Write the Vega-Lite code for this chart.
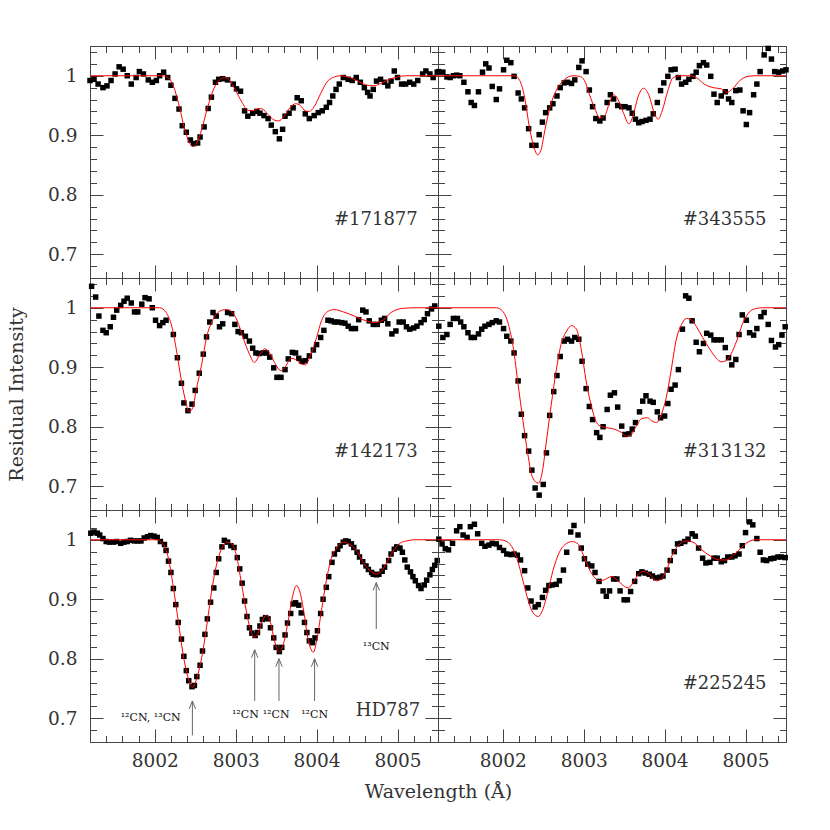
{
"$schema":"https://vega.github.io/schema/vega-lite/v6.json",
"background":"white",
"padding":{"left":6,"top":42,"right":5,"bottom":5},
"autosize":{"type":"pad"},
"config":{"view":{"stroke":null},"concat":{"spacing":0},
"axis":{"domainColor":"#444","tickColor":"#444","domainWidth":1,"tickWidth":1,"labelFont":"DejaVu Serif","labelFontSize":18.5,"labelColor":"#333","titleFont":"DejaVu Serif","titleFontSize":19,"titleColor":"#333","titleFontWeight":"normal","grid":false,"labelOverlap":false,"labelFlush":false,"labelBound":false}},
"datasets":{
"obs1":[{"wl":8001.20,"flux":0.992},{"wl":8001.25,"flux":0.994},{"wl":8001.30,"flux":0.986},{"wl":8001.36,"flux":0.980},{"wl":8001.41,"flux":0.983},{"wl":8001.46,"flux":0.992},{"wl":8001.51,"flux":1.003},{"wl":8001.56,"flux":1.015},{"wl":8001.61,"flux":1.011},{"wl":8001.66,"flux":1.000},{"wl":8001.71,"flux":0.986},{"wl":8001.77,"flux":0.997},{"wl":8001.81,"flux":1.007},{"wl":8001.86,"flux":1.003},{"wl":8001.92,"flux":0.993},{"wl":8001.97,"flux":0.989},{"wl":8002.02,"flux":0.992},{"wl":8002.06,"flux":1.000},{"wl":8002.11,"flux":1.006},{"wl":8002.16,"flux":0.997},{"wl":8002.20,"flux":0.984},{"wl":8002.25,"flux":0.962},{"wl":8002.30,"flux":0.944},{"wl":8002.34,"flux":0.916},{"wl":8002.39,"flux":0.905},{"wl":8002.44,"flux":0.892},{"wl":8002.48,"flux":0.886},{"wl":8002.53,"flux":0.887},{"wl":8002.56,"flux":0.897},{"wl":8002.61,"flux":0.914},{"wl":8002.66,"flux":0.945},{"wl":8002.70,"flux":0.964},{"wl":8002.75,"flux":0.989},{"wl":8002.79,"flux":0.994},{"wl":8002.84,"flux":0.995},{"wl":8002.90,"flux":0.993},{"wl":8002.97,"flux":0.986},{"wl":8003.01,"flux":0.978},{"wl":8003.06,"flux":0.974},{"wl":8003.11,"flux":0.941},{"wl":8003.15,"flux":0.932},{"wl":8003.21,"flux":0.937},{"wl":8003.26,"flux":0.940},{"wl":8003.30,"flux":0.937},{"wl":8003.35,"flux":0.933},{"wl":8003.40,"flux":0.928},{"wl":8003.44,"flux":0.917},{"wl":8003.49,"flux":0.906},{"wl":8003.54,"flux":0.894},{"wl":8003.58,"flux":0.910},{"wl":8003.61,"flux":0.932},{"wl":8003.66,"flux":0.937},{"wl":8003.71,"flux":0.946},{"wl":8003.76,"flux":0.963},{"wl":8003.81,"flux":0.958},{"wl":8003.86,"flux":0.936},{"wl":8003.91,"flux":0.928},{"wl":8003.97,"flux":0.933},{"wl":8004.02,"flux":0.938},{"wl":8004.07,"flux":0.941},{"wl":8004.12,"flux":0.947},{"wl":8004.16,"flux":0.955},{"wl":8004.20,"flux":0.966},{"wl":8004.24,"flux":0.977},{"wl":8004.28,"flux":0.986},{"wl":8004.33,"flux":0.997},{"wl":8004.39,"flux":0.994},{"wl":8004.44,"flux":0.992},{"wl":8004.49,"flux":0.997},{"wl":8004.54,"flux":0.989},{"wl":8004.59,"flux":0.980},{"wl":8004.63,"flux":0.972},{"wl":8004.66,"flux":0.966},{"wl":8004.70,"flux":0.977},{"wl":8004.74,"flux":0.991},{"wl":8004.79,"flux":0.994},{"wl":8004.84,"flux":0.989},{"wl":8004.88,"flux":0.983},{"wl":8004.92,"flux":0.991},{"wl":8004.96,"flux":1.008},{"wl":8005.00,"flux":0.997},{"wl":8005.05,"flux":0.986},{"wl":8005.10,"flux":0.986},{"wl":8005.15,"flux":0.989},{"wl":8005.20,"flux":0.986},{"wl":8005.25,"flux":0.992},{"wl":8005.31,"flux":1.003},{"wl":8005.35,"flux":1.008},{"wl":8005.40,"flux":1.003},{"wl":8005.44,"flux":0.997},{"wl":8005.49,"flux":1.006}],
"mod1":[{"wl":8001.20,"flux":1.0},{"wl":8002.10,"flux":1.0},{"wl":8002.18,"flux":0.995},{"wl":8002.25,"flux":0.975},{"wl":8002.31,"flux":0.945},{"wl":8002.37,"flux":0.91},{"wl":8002.44,"flux":0.885},{"wl":8002.47,"flux":0.881},{"wl":8002.52,"flux":0.887},{"wl":8002.58,"flux":0.91},{"wl":8002.65,"flux":0.945},{"wl":8002.72,"flux":0.975},{"wl":8002.80,"flux":0.993},{"wl":8002.86,"flux":0.997},{"wl":8002.92,"flux":0.993},{"wl":8003.00,"flux":0.975},{"wl":8003.08,"flux":0.955},{"wl":8003.15,"flux":0.942},{"wl":8003.22,"flux":0.941},{"wl":8003.28,"flux":0.945},{"wl":8003.33,"flux":0.944},{"wl":8003.40,"flux":0.935},{"wl":8003.47,"flux":0.926},{"wl":8003.53,"flux":0.924},{"wl":8003.60,"flux":0.932},{"wl":8003.67,"flux":0.946},{"wl":8003.74,"flux":0.953},{"wl":8003.80,"flux":0.950},{"wl":8003.86,"flux":0.941},{"wl":8003.91,"flux":0.940},{"wl":8003.97,"flux":0.948},{"wl":8004.05,"flux":0.970},{"wl":8004.12,"flux":0.988},{"wl":8004.22,"flux":0.998},{"wl":8004.30,"flux":1.0},{"wl":8004.38,"flux":0.998},{"wl":8004.48,"flux":0.993},{"wl":8004.60,"flux":0.985},{"wl":8004.70,"flux":0.983},{"wl":8004.78,"flux":0.986},{"wl":8004.88,"flux":0.993},{"wl":8005.00,"flux":0.998},{"wl":8005.10,"flux":1.0},{"wl":8005.50,"flux":1.0}],
"obs2":[{"wl":8001.21,"flux":1.007},{"wl":8001.26,"flux":1.006},{"wl":8001.31,"flux":0.998},{"wl":8001.35,"flux":0.997},{"wl":8001.39,"flux":1.0},{"wl":8001.43,"flux":1.001},{"wl":8001.47,"flux":1.0},{"wl":8001.52,"flux":0.989},{"wl":8001.57,"flux":0.973},{"wl":8001.61,"flux":0.955},{"wl":8001.65,"flux":0.950},{"wl":8001.70,"flux":0.973},{"wl":8001.75,"flux":1.006},{"wl":8001.79,"flux":1.020},{"wl":8001.83,"flux":1.013},{"wl":8001.87,"flux":0.982},{"wl":8001.92,"flux":0.960},{"wl":8001.96,"flux":0.978},{"wl":8002.01,"flux":1.010},{"wl":8002.05,"flux":1.026},{"wl":8002.10,"flux":1.022},{"wl":8002.14,"flux":0.999},{"wl":8002.19,"flux":0.971},{"wl":8002.23,"flux":0.961},{"wl":8002.27,"flux":0.946},{"wl":8002.32,"flux":0.911},{"wl":8002.36,"flux":0.883},{"wl":8002.41,"flux":0.883},{"wl":8002.45,"flux":0.901},{"wl":8002.49,"flux":0.922},{"wl":8002.53,"flux":0.938},{"wl":8002.58,"flux":0.946},{"wl":8002.62,"flux":0.953},{"wl":8002.67,"flux":0.966},{"wl":8002.71,"flux":0.980},{"wl":8002.76,"flux":0.988},{"wl":8002.80,"flux":0.989},{"wl":8002.85,"flux":0.987},{"wl":8002.89,"flux":0.993},{"wl":8002.94,"flux":1.014},{"wl":8002.98,"flux":1.025},{"wl":8003.03,"flux":1.007},{"wl":8003.07,"flux":0.976},{"wl":8003.11,"flux":0.948},{"wl":8003.15,"flux":0.928},{"wl":8003.20,"flux":0.924},{"wl":8003.24,"flux":0.929},{"wl":8003.29,"flux":0.955},{"wl":8003.33,"flux":0.968},{"wl":8003.37,"flux":0.961},{"wl":8003.42,"flux":0.950},{"wl":8003.47,"flux":0.948},{"wl":8003.51,"flux":0.948},{"wl":8003.56,"flux":0.946},{"wl":8003.60,"flux":0.937},{"wl":8003.64,"flux":0.927},{"wl":8003.68,"flux":0.921},{"wl":8003.72,"flux":0.923},{"wl":8003.77,"flux":0.925},{"wl":8003.82,"flux":0.927},{"wl":8003.86,"flux":0.936},{"wl":8003.91,"flux":0.955},{"wl":8003.95,"flux":0.975},{"wl":8003.99,"flux":0.988},{"wl":8004.04,"flux":0.999},{"wl":8004.08,"flux":1.010},{"wl":8004.13,"flux":1.011},{"wl":8004.17,"flux":0.997},{"wl":8004.21,"flux":0.986},{"wl":8004.26,"flux":0.989},{"wl":8004.30,"flux":0.994},{"wl":8004.35,"flux":0.999},{"wl":8004.39,"flux":1.006},{"wl":8004.43,"flux":1.017},{"wl":8004.48,"flux":1.022},{"wl":8004.52,"flux":1.018},{"wl":8004.57,"flux":0.999},{"wl":8004.61,"flux":0.969},{"wl":8004.65,"flux":0.955},{"wl":8004.70,"flux":0.966},{"wl":8004.75,"flux":0.973},{"wl":8004.79,"flux":0.961},{"wl":8004.83,"flux":0.955},{"wl":8004.88,"flux":0.975},{"wl":8004.93,"flux":0.976},{"wl":8004.97,"flux":0.941},{"wl":8005.01,"flux":0.918},{"wl":8005.05,"flux":0.938},{"wl":8005.10,"flux":0.968},{"wl":8005.14,"flux":0.986},{"wl":8005.18,"flux":1.007},{"wl":8005.23,"flux":1.035},{"wl":8005.28,"flux":1.046},{"wl":8005.32,"flux":1.028},{"wl":8005.36,"flux":1.007},{"wl":8005.41,"flux":1.006},{"wl":8005.46,"flux":1.008},{"wl":8005.50,"flux":1.010}],
"mod2":[{"wl":8001.20,"flux":1.0},{"wl":8002.15,"flux":1.0},{"wl":8002.21,"flux":0.992},{"wl":8002.27,"flux":0.964},{"wl":8002.33,"flux":0.913},{"wl":8002.40,"flux":0.874},{"wl":8002.43,"flux":0.867},{"wl":8002.47,"flux":0.874},{"wl":8002.52,"flux":0.908},{"wl":8002.59,"flux":0.950},{"wl":8002.66,"flux":0.975},{"wl":8002.75,"flux":0.992},{"wl":8002.87,"flux":1.0},{"wl":8002.95,"flux":0.999},{"wl":8003.01,"flux":0.992},{"wl":8003.07,"flux":0.969},{"wl":8003.14,"flux":0.944},{"wl":8003.20,"flux":0.929},{"wl":8003.26,"flux":0.933},{"wl":8003.32,"flux":0.955},{"wl":8003.37,"flux":0.968},{"wl":8003.42,"flux":0.961},{"wl":8003.49,"flux":0.938},{"wl":8003.56,"flux":0.919},{"wl":8003.61,"flux":0.933},{"wl":8003.67,"flux":0.964},{"wl":8003.74,"flux":0.979},{"wl":8003.81,"flux":0.966},{"wl":8003.87,"flux":0.938},{"wl":8003.92,"flux":0.927},{"wl":8003.97,"flux":0.941},{"wl":8004.04,"flux":0.975},{"wl":8004.10,"flux":0.996},{"wl":8004.19,"flux":1.0},{"wl":8004.31,"flux":1.0},{"wl":8004.39,"flux":0.997},{"wl":8004.49,"flux":0.986},{"wl":8004.60,"flux":0.980},{"wl":8004.70,"flux":0.978},{"wl":8004.77,"flux":0.972},{"wl":8004.84,"flux":0.978},{"wl":8004.93,"flux":0.992},{"wl":8005.03,"flux":0.999},{"wl":8005.13,"flux":1.0},{"wl":8005.50,"flux":1.0}],
"obs3":[{"wl":8001.22,"flux":1.036},{"wl":8001.27,"flux":1.018},{"wl":8001.31,"flux":0.986},{"wl":8001.36,"flux":0.962},{"wl":8001.40,"flux":0.958},{"wl":8001.45,"flux":0.968},{"wl":8001.49,"flux":0.984},{"wl":8001.53,"flux":0.996},{"wl":8001.58,"flux":1.004},{"wl":8001.62,"flux":1.011},{"wl":8001.66,"flux":1.016},{"wl":8001.71,"flux":1.008},{"wl":8001.75,"flux":0.993},{"wl":8001.79,"flux":0.993},{"wl":8001.84,"flux":1.006},{"wl":8001.88,"flux":1.017},{"wl":8001.93,"flux":1.015},{"wl":8001.97,"flux":1.0},{"wl":8002.01,"flux":0.979},{"wl":8002.06,"flux":0.970},{"wl":8002.10,"flux":0.975},{"wl":8002.14,"flux":0.979},{"wl":8002.23,"flux":0.955},{"wl":8002.28,"flux":0.916},{"wl":8002.33,"flux":0.873},{"wl":8002.36,"flux":0.840},{"wl":8002.41,"flux":0.827},{"wl":8002.46,"flux":0.838},{"wl":8002.50,"flux":0.861},{"wl":8002.55,"flux":0.890},{"wl":8002.60,"flux":0.922},{"wl":8002.64,"flux":0.951},{"wl":8002.68,"flux":0.976},{"wl":8002.72,"flux":0.992},{"wl":8002.76,"flux":0.986},{"wl":8002.80,"flux":0.968},{"wl":8002.84,"flux":0.973},{"wl":8002.90,"flux":0.992},{"wl":8002.95,"flux":0.990},{"wl":8002.99,"flux":0.972},{"wl":8003.03,"flux":0.960},{"wl":8003.07,"flux":0.958},{"wl":8003.12,"flux":0.952},{"wl":8003.17,"flux":0.944},{"wl":8003.21,"flux":0.932},{"wl":8003.25,"flux":0.924},{"wl":8003.29,"flux":0.923},{"wl":8003.34,"flux":0.924},{"wl":8003.38,"flux":0.924},{"wl":8003.42,"flux":0.917},{"wl":8003.47,"flux":0.899},{"wl":8003.51,"flux":0.883},{"wl":8003.56,"flux":0.883},{"wl":8003.61,"flux":0.896},{"wl":8003.65,"flux":0.914},{"wl":8003.70,"flux":0.925},{"wl":8003.74,"flux":0.924},{"wl":8003.78,"flux":0.915},{"wl":8003.82,"flux":0.910},{"wl":8003.86,"flux":0.911},{"wl":8003.91,"flux":0.919},{"wl":8003.96,"flux":0.929},{"wl":8004.00,"flux":0.938},{"wl":8004.05,"flux":0.950},{"wl":8004.09,"flux":0.962},{"wl":8004.14,"flux":0.979},{"wl":8004.18,"flux":0.978},{"wl":8004.22,"flux":0.976},{"wl":8004.26,"flux":0.976},{"wl":8004.31,"flux":0.975},{"wl":8004.35,"flux":0.974},{"wl":8004.39,"flux":0.969},{"wl":8004.43,"flux":0.965},{"wl":8004.48,"flux":0.965},{"wl":8004.52,"flux":0.980},{"wl":8004.57,"flux":0.996},{"wl":8004.61,"flux":0.993},{"wl":8004.65,"flux":0.978},{"wl":8004.70,"flux":0.972},{"wl":8004.75,"flux":0.972},{"wl":8004.80,"flux":0.979},{"wl":8004.84,"flux":0.982},{"wl":8004.88,"flux":0.973},{"wl":8004.93,"flux":0.956},{"wl":8004.98,"flux":0.961},{"wl":8005.02,"flux":0.976},{"wl":8005.07,"flux":0.976},{"wl":8005.11,"flux":0.968},{"wl":8005.15,"flux":0.964},{"wl":8005.20,"flux":0.966},{"wl":8005.24,"flux":0.969},{"wl":8005.29,"flux":0.975},{"wl":8005.33,"flux":0.980},{"wl":8005.37,"flux":0.990},{"wl":8005.42,"flux":0.998},{"wl":8005.46,"flux":1.003}],
"mod3":[{"wl":8001.20,"flux":1.0},{"wl":8002.06,"flux":1.0},{"wl":8002.14,"flux":0.992},{"wl":8002.21,"flux":0.969},{"wl":8002.27,"flux":0.927},{"wl":8002.33,"flux":0.877},{"wl":8002.39,"flux":0.838},{"wl":8002.42,"flux":0.825},{"wl":8002.47,"flux":0.832},{"wl":8002.51,"flux":0.860},{"wl":8002.58,"flux":0.905},{"wl":8002.64,"flux":0.950},{"wl":8002.72,"flux":0.980},{"wl":8002.80,"flux":0.994},{"wl":8002.88,"flux":0.997},{"wl":8002.95,"flux":0.993},{"wl":8003.02,"flux":0.978},{"wl":8003.09,"flux":0.950},{"wl":8003.17,"flux":0.922},{"wl":8003.23,"flux":0.908},{"wl":8003.29,"flux":0.919},{"wl":8003.36,"flux":0.931},{"wl":8003.42,"flux":0.924},{"wl":8003.48,"flux":0.908},{"wl":8003.56,"flux":0.894},{"wl":8003.62,"flux":0.902},{"wl":8003.68,"flux":0.915},{"wl":8003.74,"flux":0.913},{"wl":8003.80,"flux":0.906},{"wl":8003.86,"flux":0.904},{"wl":8003.93,"flux":0.922},{"wl":8004.00,"flux":0.950},{"wl":8004.06,"flux":0.978},{"wl":8004.14,"flux":0.994},{"wl":8004.22,"flux":0.997},{"wl":8004.33,"flux":0.993},{"wl":8004.45,"flux":0.987},{"wl":8004.57,"flux":0.980},{"wl":8004.72,"flux":0.975},{"wl":8004.82,"flux":0.979},{"wl":8004.92,"flux":0.992},{"wl":8005.07,"flux":0.999},{"wl":8005.23,"flux":1.0},{"wl":8005.50,"flux":1.0}],
"obs4":[{"wl":8001.21,"flux":0.969},{"wl":8001.26,"flux":0.950},{"wl":8001.31,"flux":0.955},{"wl":8001.35,"flux":0.972},{"wl":8001.39,"flux":0.982},{"wl":8001.44,"flux":0.982},{"wl":8001.48,"flux":0.976},{"wl":8001.52,"flux":0.968},{"wl":8001.57,"flux":0.958},{"wl":8001.61,"flux":0.950},{"wl":8001.65,"flux":0.950},{"wl":8001.70,"flux":0.956},{"wl":8001.74,"flux":0.964},{"wl":8001.78,"flux":0.969},{"wl":8001.83,"flux":0.972},{"wl":8001.87,"flux":0.975},{"wl":8001.92,"flux":0.978},{"wl":8001.96,"flux":0.976},{"wl":8002.01,"flux":0.965},{"wl":8002.05,"flux":0.952},{"wl":8002.10,"flux":0.944},{"wl":8002.14,"flux":0.924},{"wl":8002.19,"flux":0.877},{"wl":8002.23,"flux":0.821},{"wl":8002.27,"flux":0.785},{"wl":8002.32,"flux":0.759},{"wl":8002.36,"flux":0.727},{"wl":8002.40,"flux":0.697},{"wl":8002.45,"flux":0.685},{"wl":8002.50,"flux":0.703},{"wl":8002.54,"flux":0.756},{"wl":8002.58,"flux":0.819},{"wl":8002.63,"flux":0.859},{"wl":8002.67,"flux":0.886},{"wl":8002.71,"flux":0.918},{"wl":8002.76,"flux":0.944},{"wl":8002.80,"flux":0.947},{"wl":8002.85,"flux":0.944},{"wl":8002.89,"flux":0.950},{"wl":8002.94,"flux":0.947},{"wl":8002.98,"flux":0.910},{"wl":8003.03,"flux":0.864},{"wl":8003.07,"flux":0.834},{"wl":8003.11,"flux":0.812},{"wl":8003.16,"flux":0.790},{"wl":8003.20,"flux":0.782},{"wl":8003.24,"flux":0.800},{"wl":8003.29,"flux":0.829},{"wl":8003.33,"flux":0.853},{"wl":8003.38,"flux":0.857},{"wl":8003.42,"flux":0.833},{"wl":8003.47,"flux":0.801},{"wl":8003.51,"flux":0.787},{"wl":8003.56,"flux":0.788},{"wl":8003.60,"flux":0.796},{"wl":8003.64,"flux":0.807},{"wl":8003.69,"flux":0.825},{"wl":8003.73,"flux":0.843},{"wl":8003.77,"flux":0.852},{"wl":8003.82,"flux":0.843},{"wl":8003.86,"flux":0.841},{"wl":8003.91,"flux":0.825},{"wl":8003.95,"flux":0.815},{"wl":8004.00,"flux":0.818},{"wl":8004.04,"flux":0.839},{"wl":8004.08,"flux":0.863},{"wl":8004.13,"flux":0.870},{"wl":8004.17,"flux":0.896},{"wl":8004.22,"flux":0.964},{"wl":8004.26,"flux":1.020},{"wl":8004.30,"flux":1.016},{"wl":8004.34,"flux":0.978},{"wl":8004.39,"flux":0.942},{"wl":8004.43,"flux":0.926},{"wl":8004.48,"flux":0.940},{"wl":8004.52,"flux":0.957},{"wl":8004.57,"flux":0.954},{"wl":8004.61,"flux":0.946},{"wl":8004.65,"flux":0.946},{"wl":8004.70,"flux":0.946},{"wl":8004.75,"flux":0.933},{"wl":8004.79,"flux":0.916},{"wl":8004.83,"flux":0.904},{"wl":8004.88,"flux":0.913},{"wl":8004.92,"flux":0.955},{"wl":8004.96,"flux":0.988},{"wl":8005.01,"flux":0.979},{"wl":8005.05,"flux":0.958},{"wl":8005.10,"flux":0.954},{"wl":8005.14,"flux":0.965},{"wl":8005.19,"flux":0.985},{"wl":8005.23,"flux":0.992},{"wl":8005.28,"flux":0.972},{"wl":8005.32,"flux":0.945},{"wl":8005.37,"flux":0.934},{"wl":8005.41,"flux":0.938},{"wl":8005.45,"flux":0.954},{"wl":8005.49,"flux":0.968}],
"mod4":[{"wl":8001.20,"flux":1.0},{"wl":8001.92,"flux":1.0},{"wl":8002.00,"flux":0.994},{"wl":8002.07,"flux":0.972},{"wl":8002.13,"flux":0.933},{"wl":8002.19,"flux":0.871},{"wl":8002.25,"flux":0.810},{"wl":8002.31,"flux":0.754},{"wl":8002.37,"flux":0.714},{"wl":8002.44,"flux":0.705},{"wl":8002.49,"flux":0.725},{"wl":8002.54,"flux":0.776},{"wl":8002.60,"flux":0.838},{"wl":8002.66,"flux":0.894},{"wl":8002.72,"flux":0.938},{"wl":8002.79,"flux":0.961},{"wl":8002.85,"flux":0.970},{"wl":8002.91,"flux":0.964},{"wl":8002.97,"flux":0.930},{"wl":8003.03,"flux":0.877},{"wl":8003.10,"flux":0.832},{"wl":8003.16,"flux":0.807},{"wl":8003.22,"flux":0.800},{"wl":8003.30,"flux":0.798},{"wl":8003.38,"flux":0.796},{"wl":8003.47,"flux":0.790},{"wl":8003.53,"flux":0.784},{"wl":8003.59,"flux":0.787},{"wl":8003.65,"flux":0.801},{"wl":8003.72,"flux":0.814},{"wl":8003.79,"flux":0.815},{"wl":8003.84,"flux":0.810},{"wl":8003.90,"flux":0.807},{"wl":8003.96,"flux":0.821},{"wl":8004.02,"flux":0.849},{"wl":8004.08,"flux":0.894},{"wl":8004.14,"flux":0.944},{"wl":8004.21,"flux":0.972},{"wl":8004.27,"flux":0.982},{"wl":8004.33,"flux":0.980},{"wl":8004.39,"flux":0.969},{"wl":8004.47,"flux":0.950},{"wl":8004.56,"flux":0.930},{"wl":8004.64,"flux":0.915},{"wl":8004.70,"flux":0.909},{"wl":8004.76,"flux":0.911},{"wl":8004.82,"flux":0.922},{"wl":8004.89,"flux":0.944},{"wl":8004.96,"flux":0.972},{"wl":8005.03,"flux":0.990},{"wl":8005.11,"flux":0.998},{"wl":8005.21,"flux":1.0},{"wl":8005.50,"flux":1.0}],
"obs5":[{"wl":8001.21,"flux":1.011},{"wl":8001.25,"flux":1.013},{"wl":8001.29,"flux":1.011},{"wl":8001.32,"flux":1.008},{"wl":8001.36,"flux":1.002},{"wl":8001.40,"flux":0.997},{"wl":8001.44,"flux":0.996},{"wl":8001.49,"flux":0.996},{"wl":8001.53,"flux":0.997},{"wl":8001.58,"flux":0.994},{"wl":8001.62,"flux":0.996},{"wl":8001.66,"flux":0.997},{"wl":8001.70,"flux":0.999},{"wl":8001.75,"flux":0.998},{"wl":8001.79,"flux":0.998},{"wl":8001.83,"flux":0.998},{"wl":8001.87,"flux":1.003},{"wl":8001.91,"flux":1.005},{"wl":8001.95,"flux":1.007},{"wl":8001.99,"flux":1.006},{"wl":8002.03,"flux":1.004},{"wl":8002.07,"flux":0.997},{"wl":8002.12,"flux":0.992},{"wl":8002.14,"flux":0.982},{"wl":8002.17,"flux":0.964},{"wl":8002.20,"flux":0.945},{"wl":8002.23,"flux":0.918},{"wl":8002.26,"flux":0.891},{"wl":8002.29,"flux":0.861},{"wl":8002.33,"flux":0.833},{"wl":8002.36,"flux":0.804},{"wl":8002.39,"flux":0.780},{"wl":8002.42,"flux":0.763},{"wl":8002.46,"flux":0.753},{"wl":8002.49,"flux":0.755},{"wl":8002.52,"flux":0.770},{"wl":8002.56,"flux":0.789},{"wl":8002.59,"flux":0.813},{"wl":8002.62,"flux":0.841},{"wl":8002.65,"flux":0.867},{"wl":8002.69,"flux":0.895},{"wl":8002.73,"flux":0.919},{"wl":8002.76,"flux":0.945},{"wl":8002.79,"flux":0.968},{"wl":8002.83,"flux":0.988},{"wl":8002.86,"flux":0.999},{"wl":8002.90,"flux":0.996},{"wl":8002.94,"flux":0.990},{"wl":8002.98,"flux":0.987},{"wl":8003.02,"flux":0.970},{"wl":8003.05,"flux":0.951},{"wl":8003.08,"flux":0.927},{"wl":8003.11,"flux":0.897},{"wl":8003.14,"flux":0.871},{"wl":8003.17,"flux":0.852},{"wl":8003.20,"flux":0.843},{"wl":8003.24,"flux":0.839},{"wl":8003.27,"flux":0.844},{"wl":8003.30,"flux":0.855},{"wl":8003.33,"flux":0.866},{"wl":8003.37,"flux":0.869},{"wl":8003.40,"flux":0.867},{"wl":8003.43,"flux":0.852},{"wl":8003.47,"flux":0.835},{"wl":8003.50,"flux":0.819},{"wl":8003.54,"flux":0.812},{"wl":8003.57,"flux":0.819},{"wl":8003.61,"flux":0.840},{"wl":8003.64,"flux":0.860},{"wl":8003.68,"flux":0.876},{"wl":8003.71,"flux":0.892},{"wl":8003.74,"flux":0.894},{"wl":8003.78,"flux":0.890},{"wl":8003.81,"flux":0.877},{"wl":8003.85,"flux":0.861},{"wl":8003.88,"flux":0.844},{"wl":8003.91,"flux":0.830},{"wl":8003.95,"flux":0.827},{"wl":8003.98,"flux":0.835},{"wl":8004.01,"flux":0.847},{"wl":8004.05,"flux":0.876},{"wl":8004.08,"flux":0.900},{"wl":8004.12,"flux":0.920},{"wl":8004.15,"flux":0.938},{"wl":8004.19,"flux":0.962},{"wl":8004.22,"flux":0.976},{"wl":8004.26,"flux":0.984},{"wl":8004.29,"flux":0.990},{"wl":8004.33,"flux":0.996},{"wl":8004.36,"flux":0.998},{"wl":8004.39,"flux":0.997},{"wl":8004.43,"flux":0.993},{"wl":8004.46,"flux":0.987},{"wl":8004.50,"flux":0.979},{"wl":8004.53,"flux":0.971},{"wl":8004.57,"flux":0.963},{"wl":8004.61,"flux":0.956},{"wl":8004.64,"flux":0.950},{"wl":8004.68,"flux":0.945},{"wl":8004.70,"flux":0.942},{"wl":8004.74,"flux":0.941},{"wl":8004.77,"flux":0.942},{"wl":8004.81,"flux":0.947},{"wl":8004.84,"flux":0.954},{"wl":8004.89,"flux":0.965},{"wl":8004.92,"flux":0.976},{"wl":8004.96,"flux":0.984},{"wl":8004.99,"flux":0.988},{"wl":8005.03,"flux":0.986},{"wl":8005.06,"flux":0.979},{"wl":8005.09,"flux":0.966},{"wl":8005.12,"flux":0.954},{"wl":8005.16,"flux":0.946},{"wl":8005.19,"flux":0.938},{"wl":8005.22,"flux":0.931},{"wl":8005.26,"flux":0.923},{"wl":8005.29,"flux":0.918},{"wl":8005.33,"flux":0.924},{"wl":8005.36,"flux":0.932},{"wl":8005.40,"flux":0.941},{"wl":8005.43,"flux":0.950},{"wl":8005.46,"flux":0.957},{"wl":8005.49,"flux":0.965}],
"mod5":[{"wl":8001.20,"flux":1.0},{"wl":8002.02,"flux":1.0},{"wl":8002.10,"flux":0.994},{"wl":8002.17,"flux":0.968},{"wl":8002.23,"flux":0.920},{"wl":8002.29,"flux":0.864},{"wl":8002.35,"flux":0.808},{"wl":8002.41,"flux":0.769},{"wl":8002.47,"flux":0.752},{"wl":8002.51,"flux":0.763},{"wl":8002.58,"flux":0.802},{"wl":8002.64,"flux":0.853},{"wl":8002.70,"flux":0.911},{"wl":8002.76,"flux":0.956},{"wl":8002.82,"flux":0.983},{"wl":8002.89,"flux":0.996},{"wl":8002.95,"flux":0.993},{"wl":8003.01,"flux":0.973},{"wl":8003.07,"flux":0.928},{"wl":8003.13,"flux":0.881},{"wl":8003.18,"flux":0.850},{"wl":8003.23,"flux":0.836},{"wl":8003.28,"flux":0.844},{"wl":8003.33,"flux":0.864},{"wl":8003.38,"flux":0.873},{"wl":8003.43,"flux":0.861},{"wl":8003.48,"flux":0.830},{"wl":8003.54,"flux":0.811},{"wl":8003.59,"flux":0.825},{"wl":8003.65,"flux":0.864},{"wl":8003.70,"flux":0.903},{"wl":8003.75,"flux":0.923},{"wl":8003.79,"flux":0.914},{"wl":8003.84,"flux":0.881},{"wl":8003.89,"flux":0.836},{"wl":8003.96,"flux":0.811},{"wl":8004.00,"flux":0.830},{"wl":8004.06,"flux":0.881},{"wl":8004.12,"flux":0.931},{"wl":8004.18,"flux":0.968},{"wl":8004.24,"flux":0.984},{"wl":8004.33,"flux":0.996},{"wl":8004.39,"flux":0.994},{"wl":8004.49,"flux":0.982},{"wl":8004.59,"flux":0.959},{"wl":8004.68,"flux":0.946},{"wl":8004.74,"flux":0.942},{"wl":8004.80,"flux":0.947},{"wl":8004.88,"flux":0.965},{"wl":8004.96,"flux":0.984},{"wl":8005.03,"flux":0.994},{"wl":8005.11,"flux":0.998},{"wl":8005.23,"flux":1.0},{"wl":8005.50,"flux":1.0}],
"obs6":[{"wl":8001.21,"flux":1.001},{"wl":8001.25,"flux":0.993},{"wl":8001.29,"flux":0.985},{"wl":8001.33,"flux":0.983},{"wl":8001.38,"flux":0.994},{"wl":8001.43,"flux":1.015},{"wl":8001.47,"flux":1.022},{"wl":8001.51,"flux":1.008},{"wl":8001.56,"flux":1.004},{"wl":8001.60,"flux":1.022},{"wl":8001.65,"flux":1.026},{"wl":8001.69,"flux":1.010},{"wl":8001.74,"flux":0.994},{"wl":8001.78,"flux":0.989},{"wl":8001.83,"flux":0.991},{"wl":8001.87,"flux":0.994},{"wl":8001.92,"flux":0.993},{"wl":8001.96,"flux":0.987},{"wl":8002.01,"flux":0.982},{"wl":8002.05,"flux":0.976},{"wl":8002.10,"flux":0.975},{"wl":8002.14,"flux":0.976},{"wl":8002.18,"flux":0.974},{"wl":8002.22,"flux":0.966},{"wl":8002.27,"flux":0.948},{"wl":8002.31,"flux":0.919},{"wl":8002.35,"flux":0.897},{"wl":8002.40,"flux":0.887},{"wl":8002.44,"flux":0.891},{"wl":8002.49,"flux":0.903},{"wl":8002.53,"flux":0.915},{"wl":8002.57,"flux":0.923},{"wl":8002.61,"flux":0.924},{"wl":8002.66,"flux":0.925},{"wl":8002.70,"flux":0.931},{"wl":8002.75,"flux":0.949},{"wl":8002.79,"flux":0.979},{"wl":8002.84,"flux":1.013},{"wl":8002.88,"flux":1.024},{"wl":8002.93,"flux":1.008},{"wl":8002.97,"flux":0.986},{"wl":8003.01,"flux":0.968},{"wl":8003.05,"flux":0.959},{"wl":8003.10,"flux":0.956},{"wl":8003.14,"flux":0.945},{"wl":8003.19,"flux":0.930},{"wl":8003.24,"flux":0.914},{"wl":8003.28,"flux":0.905},{"wl":8003.32,"flux":0.914},{"wl":8003.37,"flux":0.934},{"wl":8003.41,"flux":0.934},{"wl":8003.45,"flux":0.914},{"wl":8003.50,"flux":0.899},{"wl":8003.54,"flux":0.899},{"wl":8003.58,"flux":0.913},{"wl":8003.63,"flux":0.930},{"wl":8003.68,"flux":0.943},{"wl":8003.72,"flux":0.946},{"wl":8003.76,"flux":0.944},{"wl":8003.81,"flux":0.942},{"wl":8003.85,"flux":0.939},{"wl":8003.89,"flux":0.936},{"wl":8003.94,"flux":0.937},{"wl":8003.98,"flux":0.939},{"wl":8004.03,"flux":0.949},{"wl":8004.07,"flux":0.965},{"wl":8004.12,"flux":0.980},{"wl":8004.16,"flux":0.993},{"wl":8004.20,"flux":0.994},{"wl":8004.25,"flux":0.997},{"wl":8004.29,"flux":1.001},{"wl":8004.34,"flux":1.010},{"wl":8004.38,"flux":1.006},{"wl":8004.42,"flux":0.986},{"wl":8004.47,"flux":0.969},{"wl":8004.51,"flux":0.961},{"wl":8004.56,"flux":0.962},{"wl":8004.61,"flux":0.969},{"wl":8004.65,"flux":0.969},{"wl":8004.70,"flux":0.963},{"wl":8004.74,"flux":0.965},{"wl":8004.78,"flux":0.971},{"wl":8004.83,"flux":0.971},{"wl":8004.87,"flux":0.973},{"wl":8004.92,"flux":0.976},{"wl":8004.96,"flux":0.990},{"wl":8005.00,"flux":1.012},{"wl":8005.05,"flux":1.030},{"wl":8005.09,"flux":1.025},{"wl":8005.14,"flux":1.002},{"wl":8005.18,"flux":0.979},{"wl":8005.22,"flux":0.966},{"wl":8005.26,"flux":0.965},{"wl":8005.31,"flux":0.968},{"wl":8005.35,"flux":0.969},{"wl":8005.40,"flux":0.971},{"wl":8005.44,"flux":0.971},{"wl":8005.49,"flux":0.970}],
"mod6":[{"wl":8001.20,"flux":1.0},{"wl":8001.96,"flux":1.0},{"wl":8002.05,"flux":0.997},{"wl":8002.13,"flux":0.984},{"wl":8002.19,"flux":0.962},{"wl":8002.25,"flux":0.931},{"wl":8002.31,"flux":0.900},{"wl":8002.37,"flux":0.878},{"wl":8002.44,"flux":0.871},{"wl":8002.49,"flux":0.881},{"wl":8002.56,"flux":0.914},{"wl":8002.62,"flux":0.948},{"wl":8002.70,"flux":0.979},{"wl":8002.79,"flux":0.994},{"wl":8002.86,"flux":0.997},{"wl":8002.93,"flux":0.993},{"wl":8002.99,"flux":0.976},{"wl":8003.05,"flux":0.956},{"wl":8003.12,"flux":0.939},{"wl":8003.20,"flux":0.931},{"wl":8003.26,"flux":0.933},{"wl":8003.34,"flux":0.938},{"wl":8003.40,"flux":0.934},{"wl":8003.49,"flux":0.923},{"wl":8003.55,"flux":0.919},{"wl":8003.61,"flux":0.928},{"wl":8003.67,"flux":0.941},{"wl":8003.74,"flux":0.947},{"wl":8003.82,"flux":0.941},{"wl":8003.90,"flux":0.931},{"wl":8003.96,"flux":0.934},{"wl":8004.02,"flux":0.948},{"wl":8004.10,"flux":0.976},{"wl":8004.19,"flux":0.993},{"wl":8004.27,"flux":0.998},{"wl":8004.35,"flux":0.996},{"wl":8004.45,"flux":0.984},{"wl":8004.56,"flux":0.973},{"wl":8004.68,"flux":0.966},{"wl":8004.76,"flux":0.966},{"wl":8004.84,"flux":0.973},{"wl":8004.93,"flux":0.984},{"wl":8005.03,"flux":0.996},{"wl":8005.13,"flux":1.0},{"wl":8005.50,"flux":1.0}]
},
"columns":2,
"spacing":0,
"bounds":"flush",
"concat":[
{"width":348,"height":232,"layer":[
 {"data":{"name":"obs1"},"mark":{"type":"square","size":30,"color":"#000","opacity":1},"encoding":{"x":{"field":"wl","type":"quantitative","scale":{"domain":[8001.2,8005.5],"nice":false,"zero":false},"axis":{"orient":"bottom","values":[8001.2,8001.4,8001.6,8001.8,8002,8002.2,8002.4,8002.6,8002.8,8003,8003.2,8003.4,8003.6,8003.8,8004,8004.2,8004.4,8004.6,8004.8,8005,8005.2,8005.4],"tickSize":{"condition":{"test":"abs(datum.value-round(datum.value))<0.001","value":-13},"value":-6.5},"labels":false,"title":null}},"y":{"field":"flux","type":"quantitative","scale":{"domain":[0.66,1.05],"nice":false,"zero":false},"axis":{"orient":"left","values":[0.66,0.68,0.7,0.72,0.74,0.76,0.78,0.8,0.82,0.84,0.86,0.88,0.9,0.92,0.94,0.96,0.98,1,1.02,1.04],"tickSize":{"condition":{"test":"abs(datum.value*10-round(datum.value*10))<0.001","value":-13},"value":-6.5},"labelExpr":"abs(datum.value*10-round(datum.value*10))<0.001 ? format(datum.value,'.1~f') : ''","labelPadding":26,"title":null}}}},
 {"data":{"name":"mod1"},"mark":{"type":"line","color":"#ff0000","strokeWidth":1,"interpolate":"monotone"},"encoding":{"x":{"field":"wl","type":"quantitative","scale":{"domain":[8001.2,8005.5],"nice":false,"zero":false},"axis":{"orient":"top","values":[8001.2,8001.4,8001.6,8001.8,8002,8002.2,8002.4,8002.6,8002.8,8003,8003.2,8003.4,8003.6,8003.8,8004,8004.2,8004.4,8004.6,8004.8,8005,8005.2,8005.4],"tickSize":{"condition":{"test":"abs(datum.value-round(datum.value))<0.001","value":-13},"value":-6.5},"labels":false,"title":null}},"y":{"field":"flux","type":"quantitative","scale":{"domain":[0.66,1.05],"nice":false,"zero":false},"axis":{"orient":"right","values":[0.66,0.68,0.7,0.72,0.74,0.76,0.78,0.8,0.82,0.84,0.86,0.88,0.9,0.92,0.94,0.96,0.98,1,1.02,1.04],"tickSize":{"condition":{"test":"abs(datum.value*10-round(datum.value*10))<0.001","value":-13},"value":-6.5},"labels":false,"title":null}}}},
 {"data":{"values":[{"label":"#171877","wl":8005.25,"flux":0.749}]},"mark":{"type":"text","align":"right","baseline":"alphabetic","font":"DejaVu Serif","fontSize":18,"color":"#333"},"encoding":{"x":{"field":"wl","type":"quantitative","scale":{"domain":[8001.2,8005.5],"nice":false,"zero":false},"axis":null},"y":{"field":"flux","type":"quantitative","scale":{"domain":[0.66,1.05],"nice":false,"zero":false},"axis":null},"text":{"field":"label"}}}
],"resolve":{"axis":{"x":"independent","y":"independent"}}},
{"width":348,"height":232,"layer":[
 {"data":{"name":"obs2"},"mark":{"type":"square","size":30,"color":"#000","opacity":1},"encoding":{"x":{"field":"wl","type":"quantitative","scale":{"domain":[8001.2,8005.5],"nice":false,"zero":false},"axis":{"orient":"bottom","values":[8001.2,8001.4,8001.6,8001.8,8002,8002.2,8002.4,8002.6,8002.8,8003,8003.2,8003.4,8003.6,8003.8,8004,8004.2,8004.4,8004.6,8004.8,8005,8005.2,8005.4],"tickSize":{"condition":{"test":"abs(datum.value-round(datum.value))<0.001","value":-13},"value":-6.5},"labels":false,"title":null}},"y":{"field":"flux","type":"quantitative","scale":{"domain":[0.66,1.05],"nice":false,"zero":false},"axis":{"orient":"left","values":[0.66,0.68,0.7,0.72,0.74,0.76,0.78,0.8,0.82,0.84,0.86,0.88,0.9,0.92,0.94,0.96,0.98,1,1.02,1.04],"tickSize":{"condition":{"test":"abs(datum.value*10-round(datum.value*10))<0.001","value":-13},"value":-6.5},"labels":false,"title":null}}}},
 {"data":{"name":"mod2"},"mark":{"type":"line","color":"#ff0000","strokeWidth":1,"interpolate":"monotone"},"encoding":{"x":{"field":"wl","type":"quantitative","scale":{"domain":[8001.2,8005.5],"nice":false,"zero":false},"axis":{"orient":"top","values":[8001.2,8001.4,8001.6,8001.8,8002,8002.2,8002.4,8002.6,8002.8,8003,8003.2,8003.4,8003.6,8003.8,8004,8004.2,8004.4,8004.6,8004.8,8005,8005.2,8005.4],"tickSize":{"condition":{"test":"abs(datum.value-round(datum.value))<0.001","value":-13},"value":-6.5},"labels":false,"title":null}},"y":{"field":"flux","type":"quantitative","scale":{"domain":[0.66,1.05],"nice":false,"zero":false},"axis":{"orient":"right","values":[0.66,0.68,0.7,0.72,0.74,0.76,0.78,0.8,0.82,0.84,0.86,0.88,0.9,0.92,0.94,0.96,0.98,1,1.02,1.04],"tickSize":{"condition":{"test":"abs(datum.value*10-round(datum.value*10))<0.001","value":-13},"value":-6.5},"labels":false,"title":null}}}},
 {"data":{"values":[{"label":"#343555","wl":8005.26,"flux":0.749}]},"mark":{"type":"text","align":"right","baseline":"alphabetic","font":"DejaVu Serif","fontSize":18,"color":"#333"},"encoding":{"x":{"field":"wl","type":"quantitative","scale":{"domain":[8001.2,8005.5],"nice":false,"zero":false},"axis":null},"y":{"field":"flux","type":"quantitative","scale":{"domain":[0.66,1.05],"nice":false,"zero":false},"axis":null},"text":{"field":"label"}}}
],"resolve":{"axis":{"x":"independent","y":"independent"}}},
{"width":348,"height":232,"layer":[
 {"data":{"name":"obs3"},"mark":{"type":"square","size":30,"color":"#000","opacity":1},"encoding":{"x":{"field":"wl","type":"quantitative","scale":{"domain":[8001.2,8005.5],"nice":false,"zero":false},"axis":{"orient":"bottom","values":[8001.2,8001.4,8001.6,8001.8,8002,8002.2,8002.4,8002.6,8002.8,8003,8003.2,8003.4,8003.6,8003.8,8004,8004.2,8004.4,8004.6,8004.8,8005,8005.2,8005.4],"tickSize":{"condition":{"test":"abs(datum.value-round(datum.value))<0.001","value":-13},"value":-6.5},"labels":false,"title":null}},"y":{"field":"flux","type":"quantitative","scale":{"domain":[0.66,1.05],"nice":false,"zero":false},"axis":{"orient":"left","values":[0.66,0.68,0.7,0.72,0.74,0.76,0.78,0.8,0.82,0.84,0.86,0.88,0.9,0.92,0.94,0.96,0.98,1,1.02,1.04],"tickSize":{"condition":{"test":"abs(datum.value*10-round(datum.value*10))<0.001","value":-13},"value":-6.5},"labelExpr":"abs(datum.value*10-round(datum.value*10))<0.001 ? format(datum.value,'.1~f') : ''","labelPadding":26,"title":"Residual Intensity","titleX":-68,"titleY":116,"titleAngle":-90,"titleAlign":"center","titleBaseline":"alphabetic"}}}},
 {"data":{"name":"mod3"},"mark":{"type":"line","color":"#ff0000","strokeWidth":1,"interpolate":"monotone"},"encoding":{"x":{"field":"wl","type":"quantitative","scale":{"domain":[8001.2,8005.5],"nice":false,"zero":false},"axis":{"orient":"top","values":[8001.2,8001.4,8001.6,8001.8,8002,8002.2,8002.4,8002.6,8002.8,8003,8003.2,8003.4,8003.6,8003.8,8004,8004.2,8004.4,8004.6,8004.8,8005,8005.2,8005.4],"tickSize":{"condition":{"test":"abs(datum.value-round(datum.value))<0.001","value":-13},"value":-6.5},"labels":false,"title":null}},"y":{"field":"flux","type":"quantitative","scale":{"domain":[0.66,1.05],"nice":false,"zero":false},"axis":{"orient":"right","values":[0.66,0.68,0.7,0.72,0.74,0.76,0.78,0.8,0.82,0.84,0.86,0.88,0.9,0.92,0.94,0.96,0.98,1,1.02,1.04],"tickSize":{"condition":{"test":"abs(datum.value*10-round(datum.value*10))<0.001","value":-13},"value":-6.5},"labels":false,"title":null}}}},
 {"data":{"values":[{"label":"#142173","wl":8005.25,"flux":0.749}]},"mark":{"type":"text","align":"right","baseline":"alphabetic","font":"DejaVu Serif","fontSize":18,"color":"#333"},"encoding":{"x":{"field":"wl","type":"quantitative","scale":{"domain":[8001.2,8005.5],"nice":false,"zero":false},"axis":null},"y":{"field":"flux","type":"quantitative","scale":{"domain":[0.66,1.05],"nice":false,"zero":false},"axis":null},"text":{"field":"label"}}}
],"resolve":{"axis":{"x":"independent","y":"independent"}}},
{"width":348,"height":232,"layer":[
 {"data":{"name":"obs4"},"mark":{"type":"square","size":30,"color":"#000","opacity":1},"encoding":{"x":{"field":"wl","type":"quantitative","scale":{"domain":[8001.2,8005.5],"nice":false,"zero":false},"axis":{"orient":"bottom","values":[8001.2,8001.4,8001.6,8001.8,8002,8002.2,8002.4,8002.6,8002.8,8003,8003.2,8003.4,8003.6,8003.8,8004,8004.2,8004.4,8004.6,8004.8,8005,8005.2,8005.4],"tickSize":{"condition":{"test":"abs(datum.value-round(datum.value))<0.001","value":-13},"value":-6.5},"labels":false,"title":null}},"y":{"field":"flux","type":"quantitative","scale":{"domain":[0.66,1.05],"nice":false,"zero":false},"axis":{"orient":"left","values":[0.66,0.68,0.7,0.72,0.74,0.76,0.78,0.8,0.82,0.84,0.86,0.88,0.9,0.92,0.94,0.96,0.98,1,1.02,1.04],"tickSize":{"condition":{"test":"abs(datum.value*10-round(datum.value*10))<0.001","value":-13},"value":-6.5},"labels":false,"title":null}}}},
 {"data":{"name":"mod4"},"mark":{"type":"line","color":"#ff0000","strokeWidth":1,"interpolate":"monotone"},"encoding":{"x":{"field":"wl","type":"quantitative","scale":{"domain":[8001.2,8005.5],"nice":false,"zero":false},"axis":{"orient":"top","values":[8001.2,8001.4,8001.6,8001.8,8002,8002.2,8002.4,8002.6,8002.8,8003,8003.2,8003.4,8003.6,8003.8,8004,8004.2,8004.4,8004.6,8004.8,8005,8005.2,8005.4],"tickSize":{"condition":{"test":"abs(datum.value-round(datum.value))<0.001","value":-13},"value":-6.5},"labels":false,"title":null}},"y":{"field":"flux","type":"quantitative","scale":{"domain":[0.66,1.05],"nice":false,"zero":false},"axis":{"orient":"right","values":[0.66,0.68,0.7,0.72,0.74,0.76,0.78,0.8,0.82,0.84,0.86,0.88,0.9,0.92,0.94,0.96,0.98,1,1.02,1.04],"tickSize":{"condition":{"test":"abs(datum.value*10-round(datum.value*10))<0.001","value":-13},"value":-6.5},"labels":false,"title":null}}}},
 {"data":{"values":[{"label":"#313132","wl":8005.26,"flux":0.749}]},"mark":{"type":"text","align":"right","baseline":"alphabetic","font":"DejaVu Serif","fontSize":18,"color":"#333"},"encoding":{"x":{"field":"wl","type":"quantitative","scale":{"domain":[8001.2,8005.5],"nice":false,"zero":false},"axis":null},"y":{"field":"flux","type":"quantitative","scale":{"domain":[0.66,1.05],"nice":false,"zero":false},"axis":null},"text":{"field":"label"}}}
],"resolve":{"axis":{"x":"independent","y":"independent"}}},
{"width":348,"height":232,"layer":[
 {"data":{"name":"obs5"},"mark":{"type":"square","size":30,"color":"#000","opacity":1},"encoding":{"x":{"field":"wl","type":"quantitative","scale":{"domain":[8001.2,8005.5],"nice":false,"zero":false},"axis":{"orient":"bottom","values":[8001.2,8001.4,8001.6,8001.8,8002,8002.2,8002.4,8002.6,8002.8,8003,8003.2,8003.4,8003.6,8003.8,8004,8004.2,8004.4,8004.6,8004.8,8005,8005.2,8005.4],"tickSize":{"condition":{"test":"abs(datum.value-round(datum.value))<0.001","value":-13},"value":-6.5},"labelExpr":"abs(datum.value-round(datum.value))<0.001 ? format(datum.value,'d') : ''","labelPadding":22,"title":"Wavelength (Å)","titleX":348,"titleY":55,"titleAlign":"center","titleBaseline":"alphabetic","titleAngle":0}},"y":{"field":"flux","type":"quantitative","scale":{"domain":[0.66,1.05],"nice":false,"zero":false},"axis":{"orient":"left","values":[0.66,0.68,0.7,0.72,0.74,0.76,0.78,0.8,0.82,0.84,0.86,0.88,0.9,0.92,0.94,0.96,0.98,1,1.02,1.04],"tickSize":{"condition":{"test":"abs(datum.value*10-round(datum.value*10))<0.001","value":-13},"value":-6.5},"labelExpr":"abs(datum.value*10-round(datum.value*10))<0.001 ? format(datum.value,'.1~f') : ''","labelPadding":26,"title":null}}}},
 {"data":{"name":"mod5"},"mark":{"type":"line","color":"#ff0000","strokeWidth":1,"interpolate":"monotone"},"encoding":{"x":{"field":"wl","type":"quantitative","scale":{"domain":[8001.2,8005.5],"nice":false,"zero":false},"axis":{"orient":"top","values":[8001.2,8001.4,8001.6,8001.8,8002,8002.2,8002.4,8002.6,8002.8,8003,8003.2,8003.4,8003.6,8003.8,8004,8004.2,8004.4,8004.6,8004.8,8005,8005.2,8005.4],"tickSize":{"condition":{"test":"abs(datum.value-round(datum.value))<0.001","value":-13},"value":-6.5},"labels":false,"title":null}},"y":{"field":"flux","type":"quantitative","scale":{"domain":[0.66,1.05],"nice":false,"zero":false},"axis":{"orient":"right","values":[0.66,0.68,0.7,0.72,0.74,0.76,0.78,0.8,0.82,0.84,0.86,0.88,0.9,0.92,0.94,0.96,0.98,1,1.02,1.04],"tickSize":{"condition":{"test":"abs(datum.value*10-round(datum.value*10))<0.001","value":-13},"value":-6.5},"labels":false,"title":null}}}},
 {"data":{"values":[{"label":"HD787","wl":8005.28,"flux":0.704}]},"mark":{"type":"text","align":"right","baseline":"alphabetic","font":"DejaVu Serif","fontSize":18,"color":"#333"},"encoding":{"x":{"field":"wl","type":"quantitative","scale":{"domain":[8001.2,8005.5],"nice":false,"zero":false},"axis":null},"y":{"field":"flux","type":"quantitative","scale":{"domain":[0.66,1.05],"nice":false,"zero":false},"axis":null},"text":{"field":"label"}}},
 {"data":{"values":[{"wl":8002.465,"lo":0.671,"hi":0.729},{"wl":8003.235,"lo":0.729,"hi":0.815},{"wl":8003.535,"lo":0.729,"hi":0.80},{"wl":8003.975,"lo":0.729,"hi":0.80},{"wl":8004.737,"lo":0.85,"hi":0.928}]},"mark":{"type":"rule","color":"#666","strokeWidth":1},"encoding":{"x":{"field":"wl","type":"quantitative","scale":{"domain":[8001.2,8005.5],"nice":false,"zero":false},"axis":null},"y":{"field":"lo","type":"quantitative","scale":{"domain":[0.66,1.05],"nice":false,"zero":false},"axis":null},"y2":{"field":"hi"}}},
 {"data":{"values":[{"wl":8002.465,"hi":0.729},{"wl":8003.235,"hi":0.815},{"wl":8003.535,"hi":0.80},{"wl":8003.975,"hi":0.80},{"wl":8004.737,"hi":0.928}]},"mark":{"type":"point","shape":"M-0.8,2L0,0L0.8,2","size":64,"filled":false,"color":"#666","strokeWidth":1,"opacity":1},"encoding":{"x":{"field":"wl","type":"quantitative","scale":{"domain":[8001.2,8005.5],"nice":false,"zero":false},"axis":null},"y":{"field":"hi","type":"quantitative","scale":{"domain":[0.66,1.05],"nice":false,"zero":false},"axis":null}}},
 {"data":{"values":[{"t":"¹²CN, ¹³CN","wl":8001.95,"flux":0.701},{"t":"¹²CN","wl":8003.12,"flux":0.706},{"t":"¹²CN","wl":8003.50,"flux":0.706},{"t":"¹²CN","wl":8003.975,"flux":0.706},{"t":"¹³CN","wl":8004.737,"flux":0.819}]},"mark":{"type":"text","align":"center","baseline":"middle","font":"DejaVu Serif","fontSize":11,"color":"#111"},"encoding":{"x":{"field":"wl","type":"quantitative","scale":{"domain":[8001.2,8005.5],"nice":false,"zero":false},"axis":null},"y":{"field":"flux","type":"quantitative","scale":{"domain":[0.66,1.05],"nice":false,"zero":false},"axis":null},"text":{"field":"t"}}}
],"resolve":{"axis":{"x":"independent","y":"independent"}}},
{"width":348,"height":232,"layer":[
 {"data":{"name":"obs6"},"mark":{"type":"square","size":30,"color":"#000","opacity":1},"encoding":{"x":{"field":"wl","type":"quantitative","scale":{"domain":[8001.2,8005.5],"nice":false,"zero":false},"axis":{"orient":"bottom","values":[8001.2,8001.4,8001.6,8001.8,8002,8002.2,8002.4,8002.6,8002.8,8003,8003.2,8003.4,8003.6,8003.8,8004,8004.2,8004.4,8004.6,8004.8,8005,8005.2,8005.4],"tickSize":{"condition":{"test":"abs(datum.value-round(datum.value))<0.001","value":-13},"value":-6.5},"labelExpr":"abs(datum.value-round(datum.value))<0.001 ? format(datum.value,'d') : ''","labelPadding":22,"title":null}},"y":{"field":"flux","type":"quantitative","scale":{"domain":[0.66,1.05],"nice":false,"zero":false},"axis":{"orient":"left","values":[0.66,0.68,0.7,0.72,0.74,0.76,0.78,0.8,0.82,0.84,0.86,0.88,0.9,0.92,0.94,0.96,0.98,1,1.02,1.04],"tickSize":{"condition":{"test":"abs(datum.value*10-round(datum.value*10))<0.001","value":-13},"value":-6.5},"labels":false,"title":null}}}},
 {"data":{"name":"mod6"},"mark":{"type":"line","color":"#ff0000","strokeWidth":1,"interpolate":"monotone"},"encoding":{"x":{"field":"wl","type":"quantitative","scale":{"domain":[8001.2,8005.5],"nice":false,"zero":false},"axis":{"orient":"top","values":[8001.2,8001.4,8001.6,8001.8,8002,8002.2,8002.4,8002.6,8002.8,8003,8003.2,8003.4,8003.6,8003.8,8004,8004.2,8004.4,8004.6,8004.8,8005,8005.2,8005.4],"tickSize":{"condition":{"test":"abs(datum.value-round(datum.value))<0.001","value":-13},"value":-6.5},"labels":false,"title":null}},"y":{"field":"flux","type":"quantitative","scale":{"domain":[0.66,1.05],"nice":false,"zero":false},"axis":{"orient":"right","values":[0.66,0.68,0.7,0.72,0.74,0.76,0.78,0.8,0.82,0.84,0.86,0.88,0.9,0.92,0.94,0.96,0.98,1,1.02,1.04],"tickSize":{"condition":{"test":"abs(datum.value*10-round(datum.value*10))<0.001","value":-13},"value":-6.5},"labels":false,"title":null}}}},
 {"data":{"values":[{"label":"#225245","wl":8005.26,"flux":0.749}]},"mark":{"type":"text","align":"right","baseline":"alphabetic","font":"DejaVu Serif","fontSize":18,"color":"#333"},"encoding":{"x":{"field":"wl","type":"quantitative","scale":{"domain":[8001.2,8005.5],"nice":false,"zero":false},"axis":null},"y":{"field":"flux","type":"quantitative","scale":{"domain":[0.66,1.05],"nice":false,"zero":false},"axis":null},"text":{"field":"label"}}}
],"resolve":{"axis":{"x":"independent","y":"independent"}}}
]
}
